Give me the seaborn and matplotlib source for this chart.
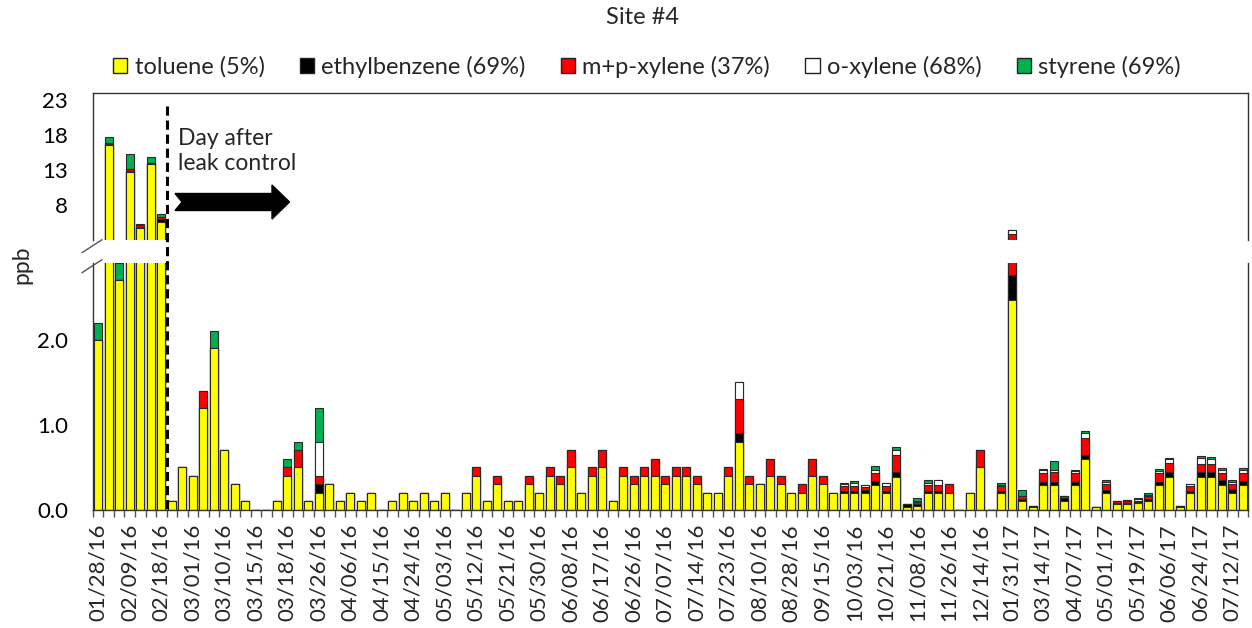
import numpy as np
import pandas as pd
import matplotlib
matplotlib.use("Agg")
import matplotlib.pyplot as plt
from matplotlib.patches import Patch, Polygon
from matplotlib.lines import Line2D
import seaborn as sns

# ---------------- data ----------------
toluene = [2.0, 16.6, 2.7, 12.8, 4.8, 13.85, 5.6, 0.1, 0.5, 0.4,
           1.2, 1.9, 0.7, 0.3, 0.1, 0, 0, 0.1, 0.4, 0.5,
           0.1, 0.2, 0.3, 0.1, 0.2, 0.1, 0.2, 0, 0.1, 0.2,
           0.1, 0.2, 0.1, 0.2, 0, 0.2, 0.4, 0.1, 0.3, 0.1,
           0.1, 0.3, 0.2, 0.4, 0.3, 0.5, 0.2, 0.4, 0.5, 0.1,
           0.4, 0.3, 0.4, 0.4, 0.3, 0.4, 0.4, 0.3, 0.2, 0.2,
           0.4, 0.8, 0.3, 0.3, 0.4, 0.3, 0.2, 0.2, 0.4, 0.3,
           0.2, 0.2, 0.2, 0.2, 0.29, 0.2, 0.39, 0.04, 0.05, 0.2,
           0.2, 0.2, 0, 0.2, 0.5, 0, 0.2, 2.46, 0.1, 0.03,
           0.29, 0.29, 0.1, 0.29, 0.6, 0.03, 0.2, 0.07, 0.075, 0.08,
           0.1, 0.29, 0.39, 0.04, 0.2, 0.39, 0.39, 0.29, 0.2, 0.29]
ethylbenzene = [0, 0.1, 0, 0.15, 0.1, 0.15, 0.4, 0, 0, 0,
                0, 0, 0, 0, 0, 0, 0, 0, 0, 0,
                0, 0.1, 0, 0, 0, 0, 0, 0, 0, 0,
                0, 0, 0, 0, 0, 0, 0, 0, 0, 0,
                0, 0, 0, 0, 0, 0, 0, 0, 0, 0,
                0, 0, 0, 0, 0, 0, 0, 0, 0, 0,
                0, 0.1, 0, 0, 0, 0, 0, 0, 0, 0,
                0, 0.025, 0.025, 0.03, 0.05, 0.025, 0.06, 0.03, 0.02, 0.025,
                0.025, 0, 0, 0, 0, 0, 0.02, 0.3, 0.03, 0.02,
                0.04, 0.04, 0.04, 0.04, 0.05, 0.01, 0.04, 0.01, 0.01, 0.01,
                0.035, 0.04, 0.06, 0.01, 0.025, 0.06, 0.06, 0.06, 0.05, 0.05]
mp_xylene = [0, 0.2, 0, 0.2, 0.25, 0.05, 0.4, 0, 0, 0,
             0.2, 0, 0, 0, 0, 0, 0, 0, 0.1, 0.2,
             0, 0.1, 0, 0, 0, 0, 0, 0, 0, 0,
             0, 0, 0, 0, 0, 0, 0.1, 0, 0.1, 0,
             0, 0.1, 0, 0.1, 0.1, 0.2, 0, 0.1, 0.2, 0,
             0.1, 0.1, 0.1, 0.2, 0.1, 0.1, 0.1, 0.1, 0, 0,
             0.1, 0.4, 0.1, 0, 0.2, 0.1, 0, 0.1, 0.2, 0.1,
             0, 0.055, 0.06, 0.045, 0.1, 0.06, 0.19, 0, 0.02, 0.065,
             0.065, 0.1, 0, 0, 0.2, 0, 0.06, 1.17, 0.03, 0,
             0.1, 0.12, 0.02, 0.1, 0.19, 0, 0.06, 0.02, 0.025, 0.02,
             0.035, 0.1, 0.1, 0, 0.06, 0.09, 0.09, 0.09, 0.05, 0.1]
o_xylene = [0, 0, 0, 0, 0, 0, 0, 0, 0, 0,
            0, 0, 0, 0, 0, 0, 0, 0, 0, 0,
            0, 0.4, 0, 0, 0, 0, 0, 0, 0, 0,
            0, 0, 0, 0, 0, 0, 0, 0, 0, 0,
            0, 0, 0, 0, 0, 0, 0, 0, 0, 0,
            0, 0, 0, 0, 0, 0, 0, 0, 0, 0,
            0, 0.2, 0, 0, 0, 0, 0, 0, 0, 0,
            0, 0.02, 0.03, 0.015, 0.03, 0.035, 0.06, 0, 0.02, 0.03,
            0.06, 0, 0, 0, 0, 0, 0.01, 0.6, 0.01, 0,
            0.04, 0.02, 0.01, 0.03, 0.06, 0, 0.03, 0.01, 0.01, 0.02,
            0.01, 0.03, 0.05, 0, 0.015, 0.07, 0.06, 0.03, 0.03, 0.03]
styrene = [0.2, 0.9, 0.2, 2.2, 0.25, 0.8, 0.4, 0, 0, 0,
           0, 0.2, 0, 0, 0, 0, 0, 0, 0.1, 0.1,
           0, 0.4, 0, 0, 0, 0, 0, 0, 0, 0,
           0, 0, 0, 0, 0, 0, 0, 0, 0, 0,
           0, 0, 0, 0, 0, 0, 0, 0, 0, 0,
           0, 0, 0, 0, 0, 0, 0, 0, 0, 0,
           0, 0, 0, 0, 0, 0, 0, 0, 0, 0,
           0, 0.02, 0.03, 0, 0.05, 0, 0.045, 0, 0.03, 0.03,
           0, 0, 0, 0, 0, 0, 0.03, 0, 0.07, 0,
           0.01, 0.1, 0, 0.01, 0.03, 0, 0.02, 0, 0, 0.01,
           0.02, 0.02, 0.01, 0, 0.01, 0.025, 0.02, 0.02, 0.02, 0.02]

tick_labels = ["01/28/16", "02/09/16", "02/18/16", "03/01/16", "03/10/16", "03/15/16",
               "03/18/16", "03/26/16", "04/06/16", "04/15/16", "04/24/16", "05/03/16",
               "05/12/16", "05/21/16", "05/30/16", "06/08/16", "06/17/16", "06/26/16",
               "07/07/16", "07/14/16", "07/23/16", "08/10/16", "08/28/16", "09/15/16",
               "10/03/16", "10/21/16", "11/08/16", "11/26/16", "12/14/16", "01/31/17",
               "03/14/17", "04/07/17", "05/01/17", "05/19/17", "06/06/17", "06/24/17",
               "07/12/17"]
series_names = ["toluene (5%)", "ethylbenzene (69%)", "m+p-xylene (37%)",
                "o-xylene (68%)", "styrene (69%)"]
series_colors = ["#FFFF00", "#000000", "#FF0000", "#FFFFFF", "#00B050"]
leak_control_after = 6.5   # boundary between 7th and 8th sample

# ---------------- figure ----------------
sns.set_theme(style="white")
plt.rcParams["font.family"] = ["Lato", "DejaVu Sans"]

W, H = 1252, 628
fig = plt.figure(figsize=(W / 100, H / 100), dpi=100)

def fx(px):
    return px / W

def fy(py):
    return 1 - py / H

L, R = 93, 1248
ax_top = fig.add_axes([fx(L), fy(240), fx(R - L), fy(93) - fy(240)])
ax_bot = fig.add_axes([fx(L), fy(510), fx(R - L), fy(263) - fy(510)])

n = len(toluene)
df = pd.DataFrame({
    "pos": np.arange(n),
    "toluene": toluene, "ethylbenzene": ethylbenzene, "mp": mp_xylene,
    "o": o_xylene, "styrene": styrene,
})
cols = ["toluene", "ethylbenzene", "mp", "o", "styrene"]
cum = df[cols].cumsum(axis=1)

for ax in (ax_top, ax_bot):
    for k in range(len(cols) - 1, -1, -1):
        sns.barplot(x=df["pos"], y=cum[cols[k]], color=series_colors[k],
                    saturation=1, width=0.72, edgecolor="#2a2a2a", linewidth=0.8,
                    errorbar=None, ax=ax)
    ax.set_xlim(-0.5, n - 0.5)
    ax.set_xlabel("")
    ax.set_ylabel("")
    for s in ax.spines.values():
        s.set_color("#333333")
        s.set_linewidth(1.0)

ax_top.set_ylim(3.05, 24.05)
ax_top.set_yticks([8, 13, 18, 23])
ax_top.set_yticklabels(["8", "13", "18", "23"])
ax_top.spines["bottom"].set_visible(False)
ax_top.set_xticks([])
ax_top.tick_params(axis="y", length=0, pad=18, labelsize=16, labelcolor="#000000")

ax_bot.set_ylim(0, 2.9)
ax_bot.set_yticks([0, 1, 2])
ax_bot.set_yticklabels(["0.0", "1.0", "2.0"])
ax_bot.spines["top"].set_visible(False)
ax_bot.tick_params(axis="y", length=0, pad=18, labelsize=16, labelcolor="#000000")
major_pos = np.arange(0, n, 3)[:len(tick_labels)]
ax_bot.set_xticks(major_pos)
ax_bot.set_xticklabels(tick_labels, rotation=90)
ax_bot.set_xticks(np.arange(-0.5, n, 1), minor=True)
ax_bot.tick_params(axis="x", which="major", length=0, pad=10, labelsize=16)
ax_bot.tick_params(axis="x", which="minor", length=5, width=1, color="#555555",
                   direction="out", bottom=True)

# break marks
for y0 in (252.7, 272.7):
    fig.add_artist(Line2D([fx(82), fx(102)], [fy(y0), fy(y0 - 13)],
                          color="#555555", lw=1.0))

# leak-control dashed line
xf = fx(L) + (leak_control_after + 0.5) / n * fx(R - L)
fig.add_artist(Line2D([xf, xf], [fy(106), fy(510)], color="black", lw=2.2,
                      linestyle=(0, (3, 1.6))))

# arrow
arrow_px = [(175, 193.5), (272, 193.5), (272, 185), (289.5, 202), (272, 219),
            (272, 210.5), (175, 210.5), (182, 202)]
fig.add_artist(Polygon([(fx(x), fy(y)) for x, y in arrow_px], closed=True,
                       facecolor="black", edgecolor="black", transform=fig.transFigure))
fig.text(fx(178), fy(151), "Day after\nleak control", fontsize=16.5,
         ha="left", va="center", linespacing=1.25)

# title, axis label, legend
fig.text(fx(642), fy(18), "Site #4", fontsize=17, ha="center", va="center")
fig.text(fx(22), fy(265), "ppb", fontsize=16.5, rotation=90, ha="center", va="center")
handles = [Patch(facecolor=c, edgecolor="#222222", linewidth=1.0) for c in series_colors]
fig.legend(handles, series_names, loc="center", bbox_to_anchor=(fx(647), fy(67)),
           ncol=5, frameon=False, fontsize=17, handlelength=0.6, handleheight=0.6,
           handletextpad=0.3, columnspacing=1.5)

fig.savefig("out.png", dpi=100)
